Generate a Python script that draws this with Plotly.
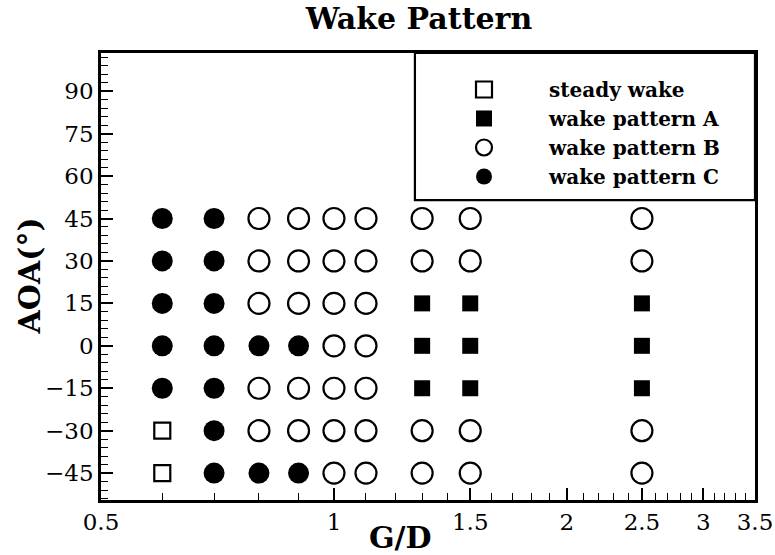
import plotly.graph_objects as go

# ---- data ----
gd_values = [0.6, 0.7, 0.8, 0.9, 1.0, 1.1, 1.3, 1.5, 2.5]
aoa_values = [45, 30, 15, 0, -15, -30, -45]

# pattern per (G/D column) listed top-to-bottom for AOA 45 .. -45
# S = steady wake, A = wake pattern A, B = wake pattern B, C = wake pattern C
pattern_grid = {
    0.6: ["C", "C", "C", "C", "C", "S", "S"],
    0.7: ["C", "C", "C", "C", "C", "C", "C"],
    0.8: ["B", "B", "B", "C", "B", "B", "C"],
    0.9: ["B", "B", "B", "C", "B", "B", "C"],
    1.0: ["B", "B", "B", "B", "B", "B", "B"],
    1.1: ["B", "B", "B", "B", "B", "B", "B"],
    1.3: ["B", "B", "A", "A", "A", "B", "B"],
    1.5: ["B", "B", "A", "A", "A", "B", "B"],
    2.5: ["B", "B", "A", "A", "A", "B", "B"],
}

series_names = {"S": "steady wake", "A": "wake pattern A",
                "B": "wake pattern B", "C": "wake pattern C"}
series_order = ["S", "A", "B", "C"]

x_tick_vals = [0.5, 1, 1.5, 2, 2.5, 3, 3.5]
x_tick_text = ["0.5", "1", "1.5", "2", "2.5", "3", "3.5"]
y_tick_vals = [-45, -30, -15, 0, 15, 30, 45, 60, 75, 90]

# ---- styles ----
styles = {
    "S": dict(symbol="square-open", size=16, color="black", line=dict(width=2.2, color="black")),
    "A": dict(symbol="square", size=16, color="black", line=dict(width=0)),
    "B": dict(symbol="circle-open", size=21, color="black", line=dict(width=2.2, color="black")),
    "C": dict(symbol="circle", size=21, color="black", line=dict(width=0)),
}

fig = go.Figure()
for key in series_order:
    xs, ys = [], []
    for gd in gd_values:
        for aoa, p in zip(aoa_values, pattern_grid[gd]):
            if p == key:
                xs.append(gd)
                ys.append(aoa)
    fig.add_trace(go.Scatter(x=xs, y=ys, mode="markers", name=series_names[key],
                             marker=styles[key]))

minor_x = [round(v * 0.1, 1) for v in range(6, 35) if v % 5 != 0]

font_fam = "DejaVu Serif"
fig.update_layout(
    width=775, height=555,
    margin=dict(l=101, r=20, t=53, b=55),
    paper_bgcolor="white", plot_bgcolor="white",
    font=dict(family=font_fam, color="black", size=23),
    title=dict(text="<b>Wake Pattern</b>", x=419 / 775, xanchor="center", xref="container",
               y=0.967, yanchor="middle", yref="container",
               font=dict(family=font_fam, size=30, color="black")),
    showlegend=True,
    legend=dict(x=(419 - 101) / 654, y=0.962, xanchor="left", yanchor="top",
                bgcolor="rgba(0,0,0,0)", borderwidth=0,
                font=dict(family=font_fam, size=20, color="black", weight="bold"),
                itemwidth=120, tracegroupgap=0),
)
fig.update_xaxes(
    type="log", range=[-0.30103, 0.544068], automargin=False,
    tickmode="array", tickvals=x_tick_vals, ticktext=x_tick_text,
    ticks="inside", ticklen=12, tickwidth=2, tickcolor="black",
    minor=dict(tickmode="array", tickvals=minor_x, ticks="inside", ticklen=7,
               tickwidth=1.2, tickcolor="black"),
    showline=True, linewidth=2.5, linecolor="black", mirror=True,
    showgrid=False, zeroline=False,
    tickfont=dict(family=font_fam, size=23),
)
fig.update_yaxes(
    range=[-54.5, 103.5], automargin=False,
    tickmode="array", tickvals=y_tick_vals,
    ticks="inside", ticklen=12, tickwidth=2, tickcolor="black",
    minor=dict(dtick=3, tick0=0, ticks="inside", ticklen=7, tickwidth=1.2, tickcolor="black"),
    showline=True, linewidth=2.5, linecolor="black", mirror=True,
    showgrid=False, zeroline=False,
    tickfont=dict(family=font_fam, size=23),
)

# legend frame
fig.add_shape(type="rect", xref="paper", yref="paper", x0=0.48, x1=1.0, y0=0.671, y1=1.0,
              line=dict(color="black", width=2.2), fillcolor="white", layer="below")

# axis titles
fig.add_annotation(text="<b>G/D</b>", xref="paper", yref="paper", x=(400 - 101) / 654, y=-0.084,
                   xanchor="center", yanchor="middle", showarrow=False,
                   font=dict(family=font_fam, size=30, color="black"))
fig.add_annotation(text="<b>AOA(°)</b>", xref="paper", yref="paper", x=(29 - 101) / 654, y=0.5,
                   xanchor="center", yanchor="middle", showarrow=False, textangle=-90,
                   font=dict(family=font_fam, size=30, color="black"))

fig.write_html("out.html")
